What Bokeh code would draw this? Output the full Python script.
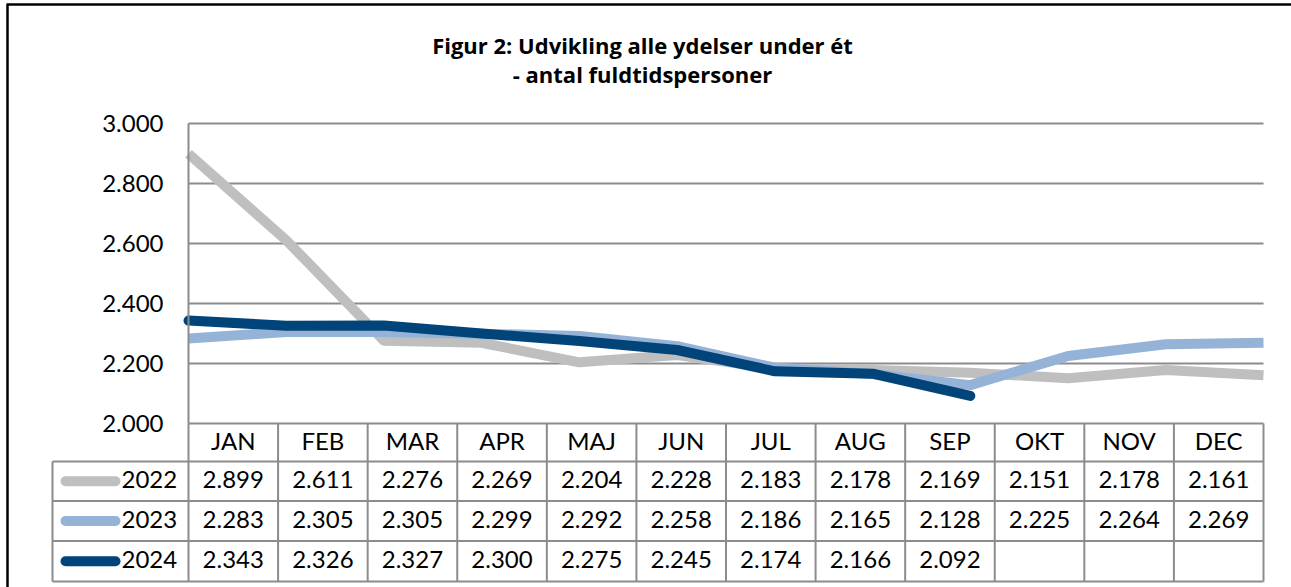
from bokeh.plotting import figure
from bokeh.models import Range1d, FixedTicker, CustomJSTickFormatter
from bokeh.core.properties import value
from bokeh.embed import file_html
from bokeh.resources import INLINE

# ---------------- data ----------------
months = ["JAN", "FEB", "MAR", "APR", "MAJ", "JUN", "JUL", "AUG", "SEP", "OKT", "NOV", "DEC"]
years = ["2022", "2023", "2024"]
v2022 = [2899, 2611, 2276, 2269, 2204, 2228, 2183, 2178, 2169, 2151, 2178, 2161]
v2023 = [2283, 2305, 2305, 2299, 2292, 2258, 2186, 2165, 2128, 2225, 2264, 2269]
v2024 = [2343, 2326, 2327, 2300, 2275, 2245, 2174, 2166, 2092]
y_ticks = [2000, 2200, 2400, 2600, 2800, 3000]
title_lines = ["Figur 2: Udvikling alle ydelser under ét", "- antal fuldtidspersoner"]

# ---------------- style / layout ----------------
colors = ["#BFBFBF", "#95B3D7", "#004479"]
GRID = "#8C8C8C"
FONT = "Lato"
FS = "24px"
W, H = 1291, 587
PAGE = 0
X0_PX, X1_PX = 188, 1263      # plot area left / right (page px)
Y_TOP_PX, Y_BOT_PX = 123, 423  # top / bottom gridline (page px)
TXT_DY = 2                     # small upward nudge for table text (px)

n = len(months)
ux = (X1_PX - X0_PX) / (n - 1)
uy = (Y_BOT_PX - Y_TOP_PX) / (y_ticks[-1] - y_ticks[0])


def dx(px):
    return (px - X0_PX) / ux


def dy(py):
    return y_ticks[0] - (py - Y_BOT_PX) / uy


def fmt(v):
    return f"{v:,}".replace(",", ".")


p = figure(width=W, height=H,
           x_range=Range1d(dx(PAGE), dx(PAGE + W)),
           y_range=Range1d(dy(PAGE + H), dy(PAGE)),
           output_backend="svg", toolbar_location=None,
           min_border=0, x_axis_location=None, y_axis_location="left")
p.outline_line_color = None
p.background_fill_color = "white"
p.border_fill_color = "white"
p.xgrid.visible = False
p.ygrid.visible = False

ax = p.yaxis[0]
ax.fixed_location = 0
ax.bounds = (y_ticks[0], y_ticks[-1])
ax.ticker = FixedTicker(ticks=y_ticks)
ax.formatter = CustomJSTickFormatter(
    code="return Math.round(tick).toString().replace(/\\B(?=(\\d{3})+(?!\\d))/g, '.');")
ax.axis_line_color = GRID
ax.axis_line_width = 2
ax.major_tick_out = 0
ax.major_tick_in = 0
ax.minor_tick_out = 0
ax.minor_tick_in = 0
ax.major_label_standoff = 25
ax.major_label_text_font = FONT
ax.major_label_text_font_size = FS
ax.major_label_text_color = "black"

# outer chart border (left + top)
p.segment(x0=[dx(7), dx(6)], y0=[dy(4), dy(4)],
          x1=[dx(7), dx(PAGE + W)], y1=[dy(PAGE + H), dy(4)],
          line_color="black", line_width=2.5)

# gridlines
gt = y_ticks[1:]
p.segment(x0=[0] * len(gt), x1=[n - 1] * len(gt), y0=gt, y1=gt,
          line_color=GRID, line_width=2)

# data table grid
col_edges = [i * (n - 1) / n for i in range(n + 1)]
col_centers = [(col_edges[i] + col_edges[i + 1]) / 2 for i in range(n)]
row_px = (423, 461, 500.5, 540.5, 581)
row_edges = [dy(v) for v in row_px]
row_centers = [(row_edges[i] + row_edges[i + 1]) / 2 for i in range(4)]
text_centers = [dy((row_px[i] + row_px[i + 1]) / 2 - TXT_DY) for i in range(4)]
leg_left = dx(52)

hx0 = [0] + [leg_left] * 4
hx1 = [n - 1] * 5
hy = row_edges
p.segment(x0=hx0, x1=hx1, y0=hy, y1=hy, line_color=GRID, line_width=2)
vx = col_edges + [leg_left]
vy0 = [row_edges[0]] * len(col_edges) + [row_edges[1]]
vy1 = [row_edges[-1]] * len(vx)
p.segment(x0=vx, x1=vx, y0=vy0, y1=vy1, line_color=GRID, line_width=2)

# series lines
series = [v2022, v2023, v2024]
for vals, col, cap in zip(series, colors, ["butt", "butt", "round"]):
    p.line(x=list(range(len(vals))), y=vals, line_color=col, line_width=10,
           line_join="round", line_cap=cap)

# header row
p.text(x=col_centers, y=[text_centers[0]] * n, text=months,
       text_align="center", text_baseline="middle",
       text_font=value(FONT), text_font_size=FS, text_color="black")

# value rows + legend keys
for r, (yr, vals, col) in enumerate(zip(years, series, colors)):
    yc = row_centers[r + 1]
    yt = text_centers[r + 1]
    p.text(x=col_centers[:len(vals)], y=[yt] * len(vals), text=[fmt(v) for v in vals],
           text_align="center", text_baseline="middle",
           text_font=value(FONT), text_font_size=FS, text_color="black")
    p.segment(x0=[dx(65)], x1=[dx(115)], y0=[yc], y1=[yc], line_color=col,
              line_width=10, line_cap="round")
    p.text(x=[dx(121)], y=[yt], text=[yr], text_align="left", text_baseline="middle",
           text_font=value(FONT), text_font_size=FS, text_color="black")

# title
p.text(x=[dx(642)] * 2, y=[dy(44), dy(73)], text=title_lines,
       text_align="center", text_baseline="middle",
       text_font=value("Open Sans"), text_font_style="bold", text_font_size="22px",
       text_color="black")

open("out.html", "w").write(file_html(p, INLINE))
